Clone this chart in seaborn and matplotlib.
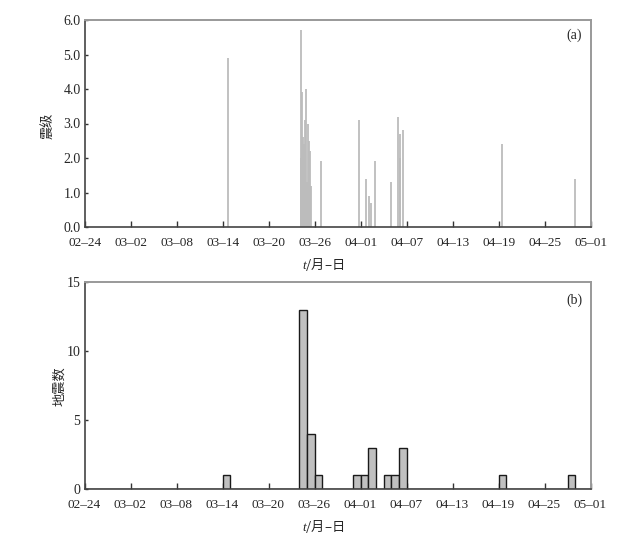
import numpy as np
import pandas as pd
import matplotlib
matplotlib.use("Agg")
import matplotlib.pyplot as plt
import seaborn as sns

# ---- data ----
# event time in days since 02-24 (2014), and magnitude
event_day = [18.7,
             28.16, 28.20, 28.25, 28.29, 28.35, 28.40, 28.50, 28.55, 28.63, 28.70, 28.78, 28.89, 28.95,
             29.08, 29.25, 29.40, 29.54,
             30.85,
             35.80,
             36.70,
             37.10, 37.40, 37.90,
             39.90,
             40.89,
             41.15, 41.17, 41.55,
             54.40,
             63.90]
magnitude = [4.9,
             5.7, 2.0, 1.8, 3.9, 2.2, 1.5, 2.6, 1.9, 2.4, 1.6, 3.1, 4.0, 1.3,
             3.0, 2.5, 2.2, 1.2,
             1.9,
             3.1,
             1.4,
             0.9, 0.7, 1.9,
             1.3,
             3.2,
             2.7, 2.0, 2.8,
             2.4,
             1.4]
tick_labels = ["02–24", "03–02", "03–08", "03–14", "03–20", "03–26",
               "04–01", "04–07", "04–13", "04–19", "04–25", "05–01"]
mag_ticks = [0.0, 1.0, 2.0, 3.0, 4.0, 5.0, 6.0]
count_ticks = [0, 5, 10, 15]

df = pd.DataFrame({"day": event_day, "mag": magnitude})

sns.set_style("ticks")
plt.rcParams["font.family"] = ["Liberation Serif", "Noto Sans CJK SC"]
plt.rcParams["mathtext.fontset"] = "custom"
plt.rcParams["mathtext.it"] = "Liberation Serif:italic"
plt.rcParams["mathtext.rm"] = "Liberation Serif"

W, H = 643, 539
fig = plt.figure(figsize=(W / 100, H / 100), dpi=100)
ax1 = fig.add_axes([84.7 / W, 1 - 227 / H, 506 / W, 207 / H])
ax2 = fig.add_axes([84.5 / W, 1 - 489 / H, 506 / W, 206.7 / H])

bar_grey = "#bcbcbc"
tick_pos = np.arange(0, 67, 6)
cjk = ["Noto Sans CJK SC"]

# (a) magnitude stems
ax1.vlines(df["day"], 0, df["mag"], color=bar_grey, linewidth=1.3)
ax1.set_ylim(0, 6)
ax1.set_yticks(mag_ticks)
ax1.set_yticklabels([f"{v:.1f}" for v in mag_ticks])
ax1.set_ylabel("震级", fontsize=9.5, family=cjk)
ax1.yaxis.set_label_coords(-0.058, 0.49)
ax1.text(0.983, 0.927, "(a)", transform=ax1.transAxes, ha="right", va="center", fontsize=10)

# (b) daily counts
sns.histplot(data=df, x="day", bins=np.arange(0, 67, 1), ax=ax2,
             color="#c0c0c0", edgecolor="#1a1a1a", linewidth=1.0, alpha=1.0)
ax2.set_ylim(0, 15)
ax2.set_yticks(count_ticks)
ax2.set_ylabel("地震数", fontsize=9.5, family=cjk)
ax2.yaxis.set_label_coords(-0.036, 0.50)
ax2.text(0.985, 0.914, "(b)", transform=ax2.transAxes, ha="right", va="center", fontsize=10)

for ax in (ax1, ax2):
    ax.set_xlim(0, 66)
    ax.set_xticks(tick_pos)
    ax.set_xticklabels(tick_labels)
    ax.set_xlabel(r"$t$/月–日", fontsize=9.5, family=cjk)
    ax.tick_params(axis="both", direction="in", width=1.0,
                   length=4.5, color="#333333")
    ax.tick_params(axis="x", pad=7, labelsize=9.5)
    ax.tick_params(axis="y", pad=3, length=2, labelsize=10)
    for s in ("left", "bottom"):
        ax.spines[s].set_color("#444444")
        ax.spines[s].set_linewidth(1.2)
    for s in ("top", "right"):
        ax.spines[s].set_visible(True)
        ax.spines[s].set_color("#999999")
        ax.spines[s].set_linewidth(1.4)
    ax.xaxis.set_label_coords(0.472, -0.139)

fig.savefig("out.png", dpi=100, facecolor="white")
